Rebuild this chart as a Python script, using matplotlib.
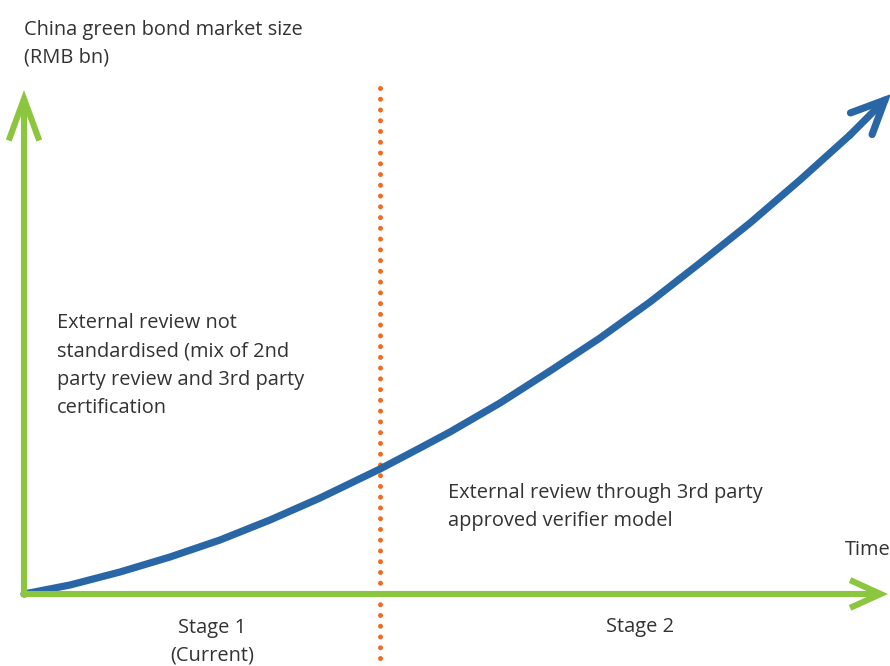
import matplotlib
matplotlib.use("Agg")
import matplotlib.pyplot as plt

# Conceptual growth curve (pixel-space reading of the reference)
curve_x = [24, 70, 120, 170, 220, 270, 320, 380, 420, 450, 500, 550, 600, 650, 700, 750, 800, 850]
curve_y = [594, 585, 572, 557, 540, 520, 498, 469, 448, 432, 403, 371, 338, 302, 263, 223, 180, 135]
curve_tip = (891, 94)

axis_origin = (24, 594)
y_axis_top = 90
x_axis_right = 888
stage_divider_x = 380

y_label = "China green bond market size\n(RMB bn)"
x_label = "Time"
stage_labels = ["Stage 1\n(Current)", "Stage 2"]
stage_label_x = [212, 640]
notes = ["External review not\nstandardised (mix of 2nd\nparty review and 3rd party\ncertification",
         "External review through 3rd party\napproved verifier model"]

GREEN = "#8cc63f"
BLUE = "#2866a6"
ORANGE = "#f26a21"
TEXT = "#333333"

plt.rcParams['font.family'] = ['Open Sans', 'DejaVu Sans']

fig = plt.figure(figsize=(8.9, 6.66), dpi=100)
ax = fig.add_axes([0, 0, 1, 1])
ax.set_xlim(0, 890)
ax.set_ylim(666, 0)
ax.axis("off")

# dotted divider
ax.plot([stage_divider_x, stage_divider_x], [88, 666], color=ORANGE, lw=3.6,
        linestyle=(0, (0.001, 2.15)), dash_capstyle='round', zorder=1)

# curve
ax.plot(curve_x, curve_y, color=BLUE, lw=5.2, solid_capstyle='round',
        solid_joinstyle='round', zorder=2)
ax.annotate('', xy=curve_tip, xytext=(curve_x[-1], curve_y[-1]),
            arrowprops=dict(arrowstyle='->,head_length=1.2,head_width=0.55', color=BLUE,
                            lw=5.2, mutation_scale=20, shrinkA=0, shrinkB=0,
                            capstyle='round', joinstyle='miter'), zorder=2,
            annotation_clip=False)

# axes arrows
ax.annotate('', xy=(axis_origin[0], y_axis_top), xytext=(axis_origin[0], axis_origin[1] + 3),
            arrowprops=dict(arrowstyle='->,head_length=1.5,head_width=0.55', color=GREEN,
                            lw=4.4, mutation_scale=20, shrinkA=0, shrinkB=0,
                            capstyle='butt', joinstyle='miter'), zorder=3)
ax.annotate('', xy=(x_axis_right, axis_origin[1]), xytext=(axis_origin[0] - 3, axis_origin[1]),
            arrowprops=dict(arrowstyle='->,head_length=1.1,head_width=0.5', color=GREEN,
                            lw=4.4, mutation_scale=20, shrinkA=0, shrinkB=0,
                            capstyle='butt', joinstyle='miter'), zorder=3)

fs = 14.4
ls = 1.55
# va='baseline' aligns the last line's baseline for multi-line text
ax.text(24, 63, y_label, fontsize=fs, color=TEXT, va='baseline', ha='left', linespacing=ls)
ax.text(845, 555, x_label, fontsize=fs, color=TEXT, va='baseline', ha='left')
ax.text(57, 413, notes[0], fontsize=fs, color=TEXT, va='baseline', ha='left', linespacing=ls)
ax.text(448, 526, notes[1], fontsize=fs, color=TEXT, va='baseline', ha='left', linespacing=ls)
ax.text(stage_label_x[0], 661, stage_labels[0], fontsize=fs, color=TEXT, va='baseline',
        ha='center', linespacing=ls)
ax.text(stage_label_x[1], 632, stage_labels[1], fontsize=fs, color=TEXT, va='baseline',
        ha='center')

fig.savefig("out.png", dpi=100)
